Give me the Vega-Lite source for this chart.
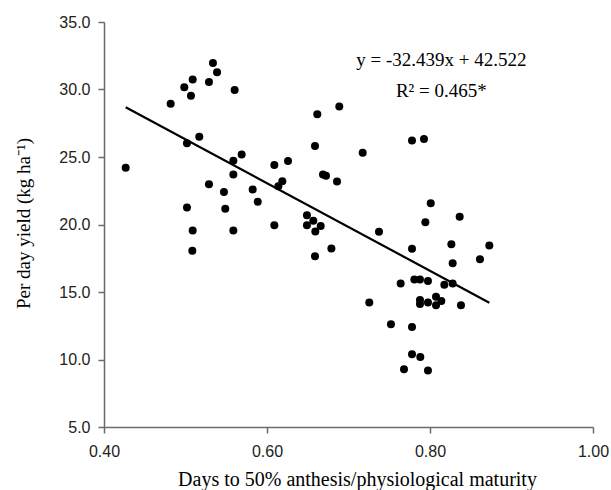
{
  "$schema": "https://vega.github.io/schema/vega-lite/v6.json",
  "autosize": "none",
  "width": 489,
  "height": 405,
  "padding": {"left": 104, "top": 22, "right": 18, "bottom": 63},
  "background": "white",
  "config": {
    "view": {"stroke": null},
    "axis": {
      "grid": false,
      "labelFlush": false,
      "domainColor": "#6b6b6b",
      "domainWidth": 1.5,
      "tickColor": "#6b6b6b",
      "tickWidth": 1.5,
      "tickSize": 6,
      "labelFont": "Liberation Sans",
      "labelFontSize": 16,
      "labelColor": "#222222",
      "titleFont": "Liberation Serif",
      "titleFontSize": 19,
      "titleFontWeight": "normal",
      "titleColor": "#000000"
    }
  },
  "datasets": {
    "pts": [
      {"x": 0.4266, "y": 24.20}, {"x": 0.4818, "y": 28.94}, {"x": 0.4985, "y": 30.16}, {"x": 0.5088, "y": 30.75},
      {"x": 0.5067, "y": 29.54}, {"x": 0.5288, "y": 30.55}, {"x": 0.5337, "y": 31.96}, {"x": 0.5387, "y": 31.27},
      {"x": 0.5603, "y": 29.96}, {"x": 0.5169, "y": 26.50}, {"x": 0.5018, "y": 26.01}, {"x": 0.5689, "y": 25.19},
      {"x": 0.5587, "y": 24.72}, {"x": 0.5587, "y": 23.71}, {"x": 0.5288, "y": 22.99}, {"x": 0.5472, "y": 22.40},
      {"x": 0.5824, "y": 22.60}, {"x": 0.5886, "y": 21.68}, {"x": 0.5488, "y": 21.16}, {"x": 0.5018, "y": 21.26},
      {"x": 0.5088, "y": 19.56}, {"x": 0.5587, "y": 19.56}, {"x": 0.5084, "y": 18.05}, {"x": 0.6090, "y": 19.95},
      {"x": 0.6090, "y": 24.40}, {"x": 0.6258, "y": 24.70}, {"x": 0.6188, "y": 23.21}, {"x": 0.6139, "y": 22.84},
      {"x": 0.6589, "y": 17.65}, {"x": 0.6490, "y": 20.69}, {"x": 0.6568, "y": 20.27}, {"x": 0.6490, "y": 19.95},
      {"x": 0.6659, "y": 19.88}, {"x": 0.6593, "y": 19.48}, {"x": 0.6617, "y": 28.16}, {"x": 0.6589, "y": 25.81},
      {"x": 0.6887, "y": 28.75}, {"x": 0.7174, "y": 25.31}, {"x": 0.7779, "y": 26.23}, {"x": 0.7926, "y": 26.33},
      {"x": 0.6687, "y": 23.71}, {"x": 0.6724, "y": 23.61}, {"x": 0.6859, "y": 23.19}, {"x": 0.7374, "y": 19.46},
      {"x": 0.8009, "y": 21.58}, {"x": 0.7943, "y": 20.17}, {"x": 0.8364, "y": 20.57}, {"x": 0.6790, "y": 18.22},
      {"x": 0.7779, "y": 18.20}, {"x": 0.8262, "y": 18.54}, {"x": 0.8728, "y": 18.44}, {"x": 0.8278, "y": 17.13},
      {"x": 0.8613, "y": 17.43}, {"x": 0.7640, "y": 15.63}, {"x": 0.7808, "y": 15.93}, {"x": 0.7877, "y": 15.93},
      {"x": 0.7975, "y": 15.82}, {"x": 0.8176, "y": 15.53}, {"x": 0.8278, "y": 15.63}, {"x": 0.7255, "y": 14.22},
      {"x": 0.7877, "y": 14.41}, {"x": 0.7877, "y": 14.12}, {"x": 0.7975, "y": 14.22}, {"x": 0.8074, "y": 14.64},
      {"x": 0.8074, "y": 14.02}, {"x": 0.8139, "y": 14.34}, {"x": 0.8380, "y": 14.02}, {"x": 0.7521, "y": 12.61},
      {"x": 0.7779, "y": 12.41}, {"x": 0.7779, "y": 10.39}, {"x": 0.7881, "y": 10.19}, {"x": 0.7681, "y": 9.28},
      {"x": 0.7975, "y": 9.18}
    ],
    "trend": [
      {"x": 0.4266, "y": 28.683},
      {"x": 0.8728, "y": 14.209}
    ],
    "labels": [
      {"x": 0.8139, "y": 31.76, "text": "y = -32.439x + 42.522"},
      {"x": 0.8139, "y": 29.46, "text": "R² = 0.465*"}
    ]
  },
  "layer": [
    {
      "data": {"name": "pts"},
      "mark": {"type": "circle", "size": 64, "color": "#000000", "opacity": 1},
      "encoding": {
        "x": {
          "field": "x", "type": "quantitative",
          "scale": {"domain": [0.4, 1.0], "nice": false, "zero": false},
          "axis": {
            "values": [0.4, 0.6, 0.8, 1.0], "format": ".2f",
            "labelPadding": 10,
            "title": "Days to 50% anthesis/physiological maturity",
            "titleFontSize": 20,
            "titleX": 253, "titleY": 58, "titleBaseline": "alphabetic", "titleAlign": "center"
          }
        },
        "y": {
          "field": "y", "type": "quantitative",
          "scale": {"domain": [5, 35], "nice": false, "zero": false},
          "axis": {
            "values": [5, 10, 15, 20, 25, 30, 35], "format": ".1f",
            "labelPadding": 8,
            "title": "Per day yield (kg ha⁻¹)",
            "titleX": -75, "titleY": 201, "titleBaseline": "alphabetic", "titleAlign": "center", "titleAngle": -90
          }
        }
      }
    },
    {
      "data": {"name": "trend"},
      "mark": {"type": "line", "color": "#000000", "strokeWidth": 2.2},
      "encoding": {
        "x": {"field": "x", "type": "quantitative"},
        "y": {"field": "y", "type": "quantitative"}
      }
    },
    {
      "data": {"name": "labels"},
      "mark": {"type": "text", "font": "Liberation Serif", "fontSize": 19, "color": "#000000", "align": "center", "baseline": "alphabetic"},
      "encoding": {
        "x": {"field": "x", "type": "quantitative"},
        "y": {"field": "y", "type": "quantitative"},
        "text": {"field": "text"}
      }
    }
  ]
}
